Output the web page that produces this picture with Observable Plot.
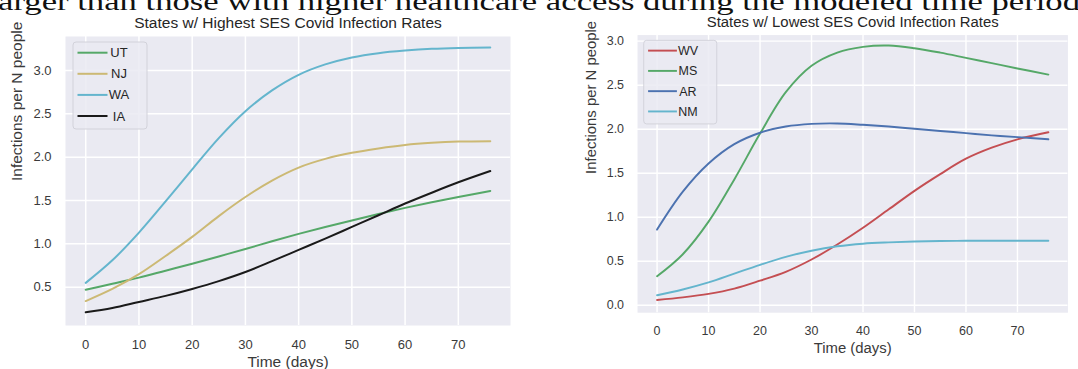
<!DOCTYPE html>
<html><head><meta charset="utf-8">
<script src="https://cdn.jsdelivr.net/npm/d3@7"></script>
<script src="https://cdn.jsdelivr.net/npm/@observablehq/plot@0.6"></script>
<style>
html,body{margin:0;padding:0;background:#fff;}
#page{position:relative;width:1078px;height:369px;overflow:hidden;background:#fff;}
#page .abs{position:absolute;top:0;}
</style></head><body><div id="page"></div>
<script>
// ---- data ----
const days = [0, 5, 10, 15, 20, 25, 30, 35, 40, 45, 50, 55, 60, 65, 70, 76];
const UT = [0.47, 0.54, 0.61, 0.69, 0.77, 0.855, 0.94, 1.03, 1.115, 1.195, 1.27, 1.345, 1.415, 1.48, 1.54, 1.61];
const NJ = [0.34, 0.48, 0.65, 0.86, 1.08, 1.32, 1.54, 1.73, 1.88, 1.98, 2.05, 2.10, 2.14, 2.165, 2.18, 2.185];
const WA = [0.55, 0.81, 1.13, 1.49, 1.86, 2.22, 2.53, 2.77, 2.95, 3.07, 3.15, 3.20, 3.23, 3.25, 3.26, 3.265];
const IA = [0.21, 0.26, 0.33, 0.40, 0.48, 0.57, 0.675, 0.80, 0.93, 1.06, 1.195, 1.33, 1.465, 1.59, 1.71, 1.84];
const WV = [0.06, 0.09, 0.13, 0.19, 0.28, 0.38, 0.52, 0.69, 0.88, 1.09, 1.30, 1.49, 1.665, 1.79, 1.885, 1.965];
const MS = [0.33, 0.58, 0.95, 1.43, 1.95, 2.42, 2.72, 2.87, 2.935, 2.95, 2.92, 2.87, 2.81, 2.75, 2.69, 2.62];
const AR = [0.86, 1.29, 1.61, 1.83, 1.96, 2.03, 2.06, 2.065, 2.05, 2.03, 2.005, 1.98, 1.955, 1.93, 1.91, 1.885];
const NM = [0.115, 0.18, 0.26, 0.36, 0.46, 0.55, 0.62, 0.67, 0.70, 0.715, 0.725, 0.73, 0.733, 0.734, 0.734, 0.733];

const highNames = ["UT", "NJ", "WA", "IA"];
const highColors = ["#55A868", "#CCB974", "#64B5CD", "#1A1A1A"];
const lowNames = ["WV", "MS", "AR", "NM"];
const lowColors = ["#C44E52", "#55A868", "#4C72B0", "#64B5CD"];

const xTicks = [0, 10, 20, 30, 40, 50, 60, 70];
const yTicksHigh = [0.5, 1.0, 1.5, 2.0, 2.5, 3.0];
const yTicksLow = [0.0, 0.5, 1.0, 1.5, 2.0, 2.5, 3.0];

const titleHigh = "States w/ Highest SES Covid Infection Rates";
const titleLow = "States w/ Lowest SES Covid Infection Rates";
const xLabel = "Time (days)";
const yLabel = "Infections per N people";
const headerText = "arger than those with higher healthcare access during the modeled time period";

// ---- drawing ----
const FONT = "'Liberation Sans', Arial, Helvetica, sans-serif";
const page = document.getElementById("page");

function makePanel(names, colors, series, title, yTicks, yDomain, o) {
  const rows = names.flatMap((n, i) => days.map((d, j) => ({state: n, t: d, v: series[i][j]})));
  const grid = {stroke: "#ffffff", strokeOpacity: 1, strokeWidth: 1.5};
  const svg = Plot.plot({
    width: o.width, height: 369,
    marginTop: 36, marginBottom: 44, marginLeft: o.ml, marginRight: o.mr,
    style: {fontFamily: FONT, fontSize: "13px", color: "#3a3a3a", background: "transparent", overflow: "visible"},
    x: {domain: [-3.8, 79.8]},
    y: {domain: yDomain},
    color: {domain: names, range: colors},
    marks: [
      Plot.frame({fill: "#EAEAF2", stroke: null}),
      Plot.gridX(xTicks, grid),
      Plot.gridY(yTicks, grid),
      Plot.axisX(xTicks, {tickSize: 0, tickPadding: 14, label: null, fontSize: 13}),
      Plot.axisY(yTicks, {tickSize: 0, tickPadding: 14, tickFormat: d3.format(".1f"), label: null, fontSize: 13}),
      Plot.line(rows, {x: "t", y: "v", z: "state", stroke: "state", strokeWidth: 2, curve: "catmull-rom"}),
      Plot.text([title], {text: d => d, frameAnchor: "top", dy: -13, fontSize: 15.5, lineAnchor: "middle", fill: "#262626"}),
      Plot.text([xLabel], {text: d => d, frameAnchor: "bottom", dy: 37, fontSize: 15.5, lineAnchor: "middle", fill: "#3a3a3a"}),
      Plot.text([yLabel], {text: d => d, frameAnchor: "left", dx: -48, rotate: -90, fontSize: 15.5, lineAnchor: "middle", fill: "#3a3a3a"})
    ]
  });
  // legend (upper left, inside the frame)
  const g = d3.select(svg).append("g").attr("font-family", FONT).attr("font-size", 13);
  const lx = o.ml + o.legDx, ly = 42;
  g.append("rect").attr("x", lx).attr("y", ly).attr("width", o.legW).attr("height", 87)
    .attr("rx", 3).attr("fill", "#EAEAF2").attr("fill-opacity", 0.85).attr("stroke", "#d2d2da");
  names.forEach((n, i) => {
    const yy = ly + 10.7 + 21.1 * i;
    g.append("line").attr("x1", lx + 4.5).attr("x2", lx + 34.5).attr("y1", yy).attr("y2", yy)
      .attr("stroke", colors[i]).attr("stroke-width", 2);
    g.append("text").attr("x", lx + 46).attr("y", yy).attr("dy", "0.35em").attr("fill", "#262626").text(n);
  });
  const div = document.createElement("div");
  div.className = "abs";
  div.style.left = o.left + "px";
  div.appendChild(svg);
  page.appendChild(div);
}

makePanel(highNames, highColors, [UT, NJ, WA, IA], titleHigh, yTicksHigh, [0.058, 3.392],
  {width: 540, ml: 65, mr: 30, left: 0, legDx: 8, legW: 74});
makePanel(lowNames, lowColors, [WV, MS, AR, NM], titleLow, yTicksLow, [-0.084, 3.069],
  {width: 560, ml: 101, mr: 11, left: 540, legDx: 7, legW: 76});

// cropped serif line at the very top
const hdr = d3.select(page).append("svg").attr("class", "abs").style("left", "0px")
  .attr("width", 1078).attr("height", 15);
hdr.append("text").attr("x", -2).attr("y", 10)
  .attr("font-family", "'Liberation Serif', 'DejaVu Serif', serif").attr("font-size", 26)
  .attr("textLength", 1082).attr("lengthAdjust", "spacingAndGlyphs").attr("fill", "#111")
  .text(headerText);
</script>
</body></html>
